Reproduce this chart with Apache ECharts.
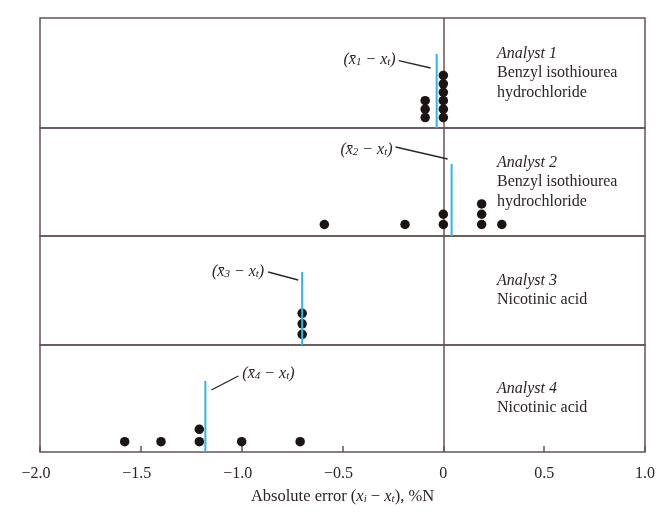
<!DOCTYPE html>
<html>
<head>
<meta charset="utf-8">
<script src="https://cdn.jsdelivr.net/npm/echarts@6/dist/echarts.min.js"></script>
<style>html,body{margin:0;padding:0;background:#fff}#c{width:658px;height:512px}</style>
</head>
<body>
<div id="c"></div>
<script>
// ---- data ----
const analysts = ['Analyst 1', 'Analyst 2', 'Analyst 3', 'Analyst 4'];
const samples = ['Benzyl isothiourea\nhydrochloride', 'Benzyl isothiourea\nhydrochloride', 'Nicotinic acid', 'Nicotinic acid'];
const errors1 = [-0.09, -0.09, -0.09, 0, 0, 0, 0, 0, 0];
const errors2 = [-0.59, -0.19, 0, 0, 0.19, 0.19, 0.19, 0.29];
const errors3 = [-0.70, -0.70, -0.70];
const errors4 = [-1.58, -1.40, -1.21, -1.21, -1.00, -0.71];
const means = [-0.033, 0.041, -0.70, -1.18];
const meanIndex = ['1', '2', '3', '4'];
const tickValues = [-2.0, -1.5, -1.0, -0.5, 0, 0.5, 1.0];
const tickLabels = ['\u22122.0', '\u22121.5', '\u22121.0', '\u22120.5', '0', '0.5', '1.0'];
const axisTitle = 'Absolute error';

// ---- layout / style (not data) ----
const allErrors = [errors1, errors2, errors3, errors4];
const gridTops = [18, 128, 236, 345];
const gridHeights = [110, 108, 109, 107];
const yRanges = [[-0.23, 12.8], [-0.12, 10.4], [-0.02, 10.36], [0.17, 8.8]];
const meanTopGap = 36; // px below panel top where the mean line ends
const LEFT = 40, RIGHT = 13;
const lineCol = '#655353';
const textCol = '#2e2424';
const dotCol = '#1c1313';
const blue = '#2cb6e8';
const FONT = "'Liberation Serif', 'DejaVu Serif', serif";

function stacked(vals) {
  const count = {};
  return vals.map(v => {
    const k = v.toFixed(3);
    count[k] = (count[k] || 0) + 1;
    return [v, count[k]];
  });
}

const grids = [], xAxes = [], yAxes = [], series = [];
for (let i = 0; i < 4; i++) {
  grids.push({ left: LEFT, right: RIGHT, top: gridTops[i], height: gridHeights[i],
    containLabel: false, outerBoundsMode: 'none',
    show: true, borderColor: lineCol, borderWidth: 1.5, backgroundColor: 'transparent' });
  const last = i === 3;
  xAxes.push({
    gridIndex: i, type: 'value', min: -2, max: 1, interval: 0.5,
    show: true,
    axisLine: { show: false },
    splitLine: { show: false },
    axisTick: { show: last, inside: true, length: 6, lineStyle: { color: lineCol, width: 1.5 } },
    axisLabel: {
      show: last, margin: 14, color: textCol, fontFamily: FONT, fontSize: 16,
      formatter: v => {
        const idx = tickValues.findIndex(t => Math.abs(t - v) < 1e-9);
        const s = idx >= 0 ? tickLabels[idx] : '';
        return v < 0 ? '{n|' + s + '}' : s;
      },
      rich: {
        n: { padding: [0, 8, 0, 0], color: textCol, fontFamily: FONT, fontSize: 16 }
      }
    },
    name: last ? '{a|' + axisTitle + ' (}{i|x}{s|i}{a| \u2212 }{i|x}{s|t}{a|), %N}' : '',
    nameLocation: 'middle', nameGap: 36,
    nameTextStyle: {
      color: textCol, fontFamily: FONT, fontSize: 16.5,
      rich: {
        a: { color: textCol, fontFamily: FONT, fontSize: 16.5, lineHeight: 17 },
        i: { color: textCol, fontFamily: FONT, fontSize: 16.5, fontStyle: 'italic', lineHeight: 17 },
        s: { color: textCol, fontFamily: FONT, fontSize: 11, fontStyle: 'italic', lineHeight: 8, verticalAlign: 'bottom' }
      }
    }
  });
  yAxes.push({ gridIndex: i, type: 'value', min: yRanges[i][0], max: yRanges[i][1], show: false });

  series.push({
    type: 'scatter', xAxisIndex: i, yAxisIndex: i, symbolSize: 9.5,
    itemStyle: { color: dotCol, opacity: 1 },
    data: stacked(allErrors[i]), z: 3, silent: true,
    markLine: {
      silent: true, symbol: ['none', 'none'], label: { show: false },
      lineStyle: { color: lineCol, width: 1.5, type: 'solid' },
      data: [{ xAxis: 0 }], z: 2
    }
  });
  const yMin = yRanges[i][0], yMax = yRanges[i][1];
  const yTop = yMax - (yMax - yMin) * meanTopGap / gridHeights[i];
  series.push({
    type: 'line', xAxisIndex: i, yAxisIndex: i, symbol: 'none', silent: true,
    lineStyle: { color: blue, width: 2 }, z: 4,
    data: [[means[i], yMin], [means[i], yTop]]
  });
}

const chart = echarts.init(document.getElementById('c'), null, { renderer: 'canvas' });
chart.setOption({
  backgroundColor: '#ffffff', animation: false,
  grid: grids, xAxis: xAxes, yAxis: yAxes, series: series
});

// annotations anchored to the mean-line tops
const callouts = [
  { start: [-38, 6.7], end: [-6, 14], text: [-41, 6], align: 'right' },
  { start: [-56, -17], end: [-4, -5], text: [-59, -14], align: 'right' },
  { start: [-34, 0], end: [-4, 8], text: [-38, 0], align: 'right' },
  { start: [6, 9], end: [33, -5], text: [37, -7], align: 'left' }
];
const graphics = [];
for (let i = 0; i < 4; i++) {
  const yMin = yRanges[i][0], yMax = yRanges[i][1];
  const yTop = yMax - (yMax - yMin) * meanTopGap / gridHeights[i];
  const p = chart.convertToPixel({ gridIndex: i }, [means[i], yTop]);
  const c = callouts[i];
  graphics.push({
    type: 'line', silent: true, z: 10,
    shape: { x1: p[0] + c.start[0], y1: p[1] + c.start[1], x2: p[0] + c.end[0], y2: p[1] + c.end[1] },
    style: { stroke: textCol, lineWidth: 1.3 }
  });
  graphics.push({
    type: 'text', silent: true, z: 10,
    x: p[0] + c.text[0], y: p[1] + c.text[1],
    style: {
      text: '{i|(x\u0304}{s|' + meanIndex[i] + '}{i| \u2212 x}{s|t}{i|)}',
      align: c.align, verticalAlign: 'middle', fill: textCol,
      font: 'italic 16px ' + FONT,
      rich: {
        i: { fontFamily: FONT, fontSize: 16, fontStyle: 'italic', fill: textCol, lineHeight: 16 },
        s: { fontFamily: FONT, fontSize: 11, fontStyle: 'italic', fill: textCol, lineHeight: 8, verticalAlign: 'bottom' }
      }
    }
  });
  graphics.push({
    type: 'text', silent: true, z: 10,
    x: 497, y: gridTops[i] + gridHeights[i] / 2,
    style: {
      text: '{it|' + analysts[i] + '}\n' + samples[i].split('\n').map(s => '{r|' + s + '}').join('\n'),
      align: 'left', verticalAlign: 'middle', fill: textCol,
      font: '16px ' + FONT,
      rich: {
        it: { fontFamily: FONT, fontSize: 16, fontStyle: 'italic', fill: textCol, lineHeight: 19.5 },
        r: { fontFamily: FONT, fontSize: 16, fill: textCol, lineHeight: 19.5 }
      }
    }
  });
}
chart.setOption({ graphic: graphics });
</script>
</body>
</html>
